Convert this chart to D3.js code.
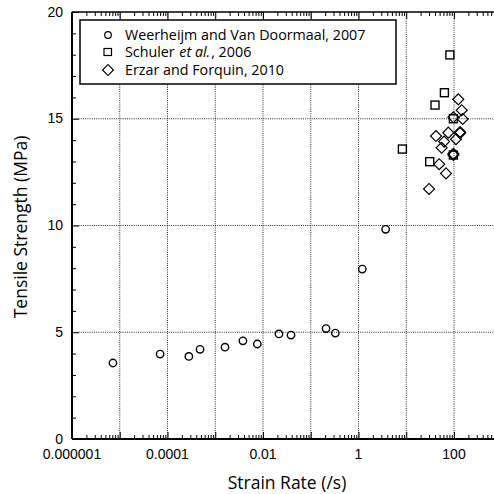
<!DOCTYPE html>
<html><head><meta charset="utf-8">
<script src="https://cdn.jsdelivr.net/npm/d3@7"></script>
<style>body{margin:0;background:#fff}svg{display:block}</style>
</head><body>
<svg id="c" width="494" height="494"></svg>
<script>
const weerheijmRate = [7.2e-6, 7e-5, 2.8e-4, 4.8e-4, 1.6e-3, 3.8e-3, 7.6e-3, 0.0216, 0.0386, 0.209, 0.327, 1.2, 3.7];
const weerheijmStrength = [3.56, 3.98, 3.87, 4.2, 4.3, 4.6, 4.45, 4.92, 4.87, 5.17, 4.96, 7.96, 9.82];
const schulerRate = [8.3, 31, 40, 63, 82, 97, 97];
const schulerStrength = [13.58, 12.99, 15.64, 16.22, 17.99, 15.0, 13.3];
const erzarRate = [123, 145, 97, 152, 76, 134, 134, 42, 110, 62, 55, 97, 97, 49, 68, 30];
const erzarStrength = [15.91, 15.4, 15.07, 14.99, 14.35, 14.38, 14.33, 14.19, 14.04, 13.93, 13.64, 13.3, 13.36, 12.87, 12.44, 11.71];
const xTickValues = [1e-6, 1e-4, 1e-2, 1, 100];
const xTickLabels = ["0.000001", "0.0001", "0.01", "1", "100"];
const yTickValues = [0, 5, 10, 15, 20];
const legendLabels = ["Weerheijm and Van Doormaal, 2007", "Schuler et al., 2006", "Erzar and Forquin, 2010"];

const svg = d3.select("#c");
const L = 72, T = 12, B = 439;
const x = d3.scaleLog().domain([1e-6, 1e3]).range([L, L + 9 * 47.75]);
const y = d3.scaleLinear().domain([0, 20]).range([B, T]);
const R = x(1e3);

// grid
const decades = d3.range(-5, 3).map(e => Math.pow(10, e));
svg.append("g").selectAll("line").data(decades).join("line")
  .attr("x1", d => x(d)).attr("x2", d => x(d)).attr("y1", T).attr("y2", B)
  .attr("stroke", "#111").attr("stroke-width", 0.9).attr("stroke-dasharray", "1,1.2");
svg.append("g").selectAll("line").data([5, 10, 15]).join("line")
  .attr("x1", L).attr("x2", R).attr("y1", d => y(d)).attr("y2", d => y(d))
  .attr("stroke", "#111").attr("stroke-width", 0.9).attr("stroke-dasharray", "1,1.2");

// ticks
const allX = [];
for (let e = -6; e < 3; e++) for (let m = 1; m <= 9; m++) allX.push(m * Math.pow(10, e));
const isDecade = d => Math.abs(Math.log10(d) - Math.round(Math.log10(d))) < 1e-9;
const gb = svg.append("g").attr("transform", `translate(0,${B})`)
  .call(d3.axisBottom(x).tickValues(allX).tickFormat("").tickSizeInner(0).tickSizeOuter(0));
gb.select(".domain").remove();
gb.selectAll(".tick line").attr("y2", d => isDecade(d) ? -7 : -4).attr("stroke", "#000").attr("stroke-width", 1);
const gt = svg.append("g").attr("transform", `translate(0,${T})`)
  .call(d3.axisTop(x).tickValues(allX).tickFormat("").tickSizeInner(0).tickSizeOuter(0));
gt.select(".domain").remove();
gt.selectAll(".tick line").attr("y2", d => isDecade(d) ? 7 : 4).attr("stroke", "#000").attr("stroke-width", 1);
const gl = svg.append("g").attr("transform", `translate(${L},0)`)
  .call(d3.axisLeft(y).tickValues(d3.range(0, 21)).tickFormat("").tickSizeInner(0).tickSizeOuter(0));
gl.select(".domain").remove();
gl.selectAll(".tick line").attr("x2", d => d % 5 === 0 ? 7 : 4).attr("stroke", "#000").attr("stroke-width", 1);

// frame
svg.append("line").attr("x1", L).attr("x2", R).attr("y1", B).attr("y2", B).attr("stroke", "#000").attr("stroke-width", 2);
svg.append("line").attr("x1", L).attr("x2", R).attr("y1", T).attr("y2", T).attr("stroke", "#000").attr("stroke-width", 1.5);
svg.append("line").attr("x1", L).attr("x2", L).attr("y1", T).attr("y2", B).attr("stroke", "#000").attr("stroke-width", 2);

// tick labels
const tickFont = "'Liberation Sans', Arial, sans-serif";
svg.append("g").selectAll("text").data(xTickValues).join("text")
  .attr("x", d => x(d)).attr("y", 459).attr("text-anchor", "middle")
  .attr("font-family", tickFont).attr("font-size", 14).attr("fill", "#000")
  .text((d, i) => xTickLabels[i]);
svg.append("g").selectAll("text").data(yTickValues).join("text")
  .attr("x", 63).attr("y", d => y(d) + 4.5).attr("text-anchor", "end")
  .attr("font-family", tickFont).attr("font-size", 14).attr("fill", "#000")
  .text(d => d);

const titleFont = "'Open Sans', 'Noto Sans', sans-serif";
svg.append("text").attr("x", 287).attr("y", 489).attr("text-anchor", "middle")
  .attr("font-family", titleFont).attr("font-size", 17.5).text("Strain Rate (/s)");
svg.append("text").attr("transform", "translate(27,227) rotate(-90)").attr("text-anchor", "middle")
  .attr("font-family", titleFont).attr("font-size", 17.5).text("Tensile Strength (MPa)");

// markers
const sw = 1.4;
svg.append("g").selectAll("circle").data(weerheijmRate).join("circle")
  .attr("cx", d => x(d)).attr("cy", (d, i) => y(weerheijmStrength[i])).attr("r", 3.7)
  .attr("fill", "none").attr("stroke", "#000").attr("stroke-width", sw);
svg.append("g").selectAll("rect").data(schulerRate).join("rect")
  .attr("x", d => x(d) - 4).attr("y", (d, i) => y(schulerStrength[i]) - 4).attr("width", 8).attr("height", 8)
  .attr("fill", "none").attr("stroke", "#000").attr("stroke-width", sw);
const dia = d3.symbol().type(d3.symbolSquare).size(60);
svg.append("g").selectAll("path").data(erzarRate).join("path")
  .attr("d", dia)
  .attr("transform", (d, i) => `translate(${x(d)},${y(erzarStrength[i])}) rotate(45)`)
  .attr("fill", "none").attr("stroke", "#000").attr("stroke-width", 1.2);

// legend
const lg = svg.append("g");
lg.append("rect").attr("x", 80).attr("y", 20).attr("width", 316).attr("height", 64)
  .attr("fill", "#fff").attr("stroke", "#000").attr("stroke-width", 1.5);
const rows = [35, 52, 70];
lg.append("circle").attr("cx", 108).attr("cy", rows[0]).attr("r", 3.3).attr("fill", "none").attr("stroke", "#000").attr("stroke-width", 1.2);
lg.append("rect").attr("x", 104).attr("y", rows[1] - 3.5).attr("width", 7.5).attr("height", 7).attr("fill", "none").attr("stroke", "#000").attr("stroke-width", 1.2);
lg.append("path").attr("d", dia).attr("transform", `translate(108,${rows[2]}) rotate(45)`).attr("fill", "none").attr("stroke", "#000").attr("stroke-width", 1.2);
function ltext(xx, yy, s, italic) {
  const t = lg.append("text").attr("x", xx).attr("y", yy)
    .attr("font-family", titleFont).attr("font-size", 14.3).text(s);
  if (italic) t.attr("font-style", "italic");
  return t.node().getBBox().width;
}
ltext(125, rows[0] + 5, legendLabels[0]);
let cx = 125;
cx += ltext(cx, rows[1] + 5, "Schuler") + 4.5;
cx += ltext(cx, rows[1] + 5, "et al.", true) + 1;
ltext(cx, rows[1] + 5, ", 2006");
ltext(125, rows[2] + 5, legendLabels[2]);
</script>
</body></html>
